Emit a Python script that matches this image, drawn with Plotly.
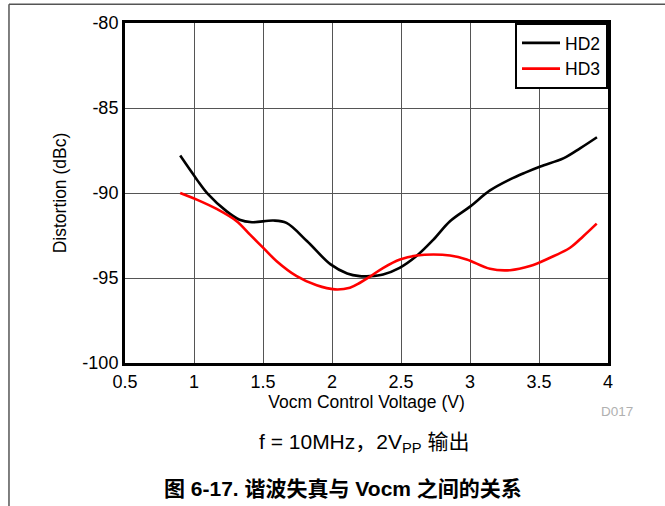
import plotly.graph_objects as go

hd2_x = [0.90, 1.02, 1.10, 1.237, 1.33, 1.42, 1.575, 1.67, 1.82, 1.99, 2.11, 2.20, 2.275, 2.37, 2.49, 2.61, 2.735, 2.855, 3.0, 3.145, 3.29, 3.40, 3.51, 3.68, 3.80, 3.92]
hd2_y = [-87.8, -89.2, -90.05, -91.08, -91.57, -91.72, -91.62, -91.76, -92.84, -94.2, -94.73, -94.89, -94.89, -94.79, -94.4, -93.72, -92.74, -91.66, -90.8, -89.85, -89.2, -88.8, -88.44, -87.95, -87.36, -86.72]

hd3_x = [0.90, 1.02, 1.164, 1.309, 1.406, 1.502, 1.599, 1.744, 1.889, 2.022, 2.13, 2.203, 2.275, 2.372, 2.493, 2.614, 2.735, 2.855, 2.976, 3.145, 3.29, 3.435, 3.58, 3.725, 3.821, 3.918]
hd3_y = [-90.0, -90.39, -90.94, -91.66, -92.45, -93.23, -94.01, -94.89, -95.43, -95.67, -95.57, -95.28, -94.92, -94.4, -93.91, -93.68, -93.62, -93.68, -93.91, -94.46, -94.54, -94.30, -93.81, -93.22, -92.54, -91.8]

x_ticks = [0.5, 1, 1.5, 2, 2.5, 3, 3.5, 4]
x_tick_labels = ["0.5", "1", "1.5", "2", "2.5", "3", "3.5", "4"]
y_ticks = [-100, -95, -90, -85, -80]
y_tick_labels = ["-100", "-95", "-90", "-85", "-80"]

FONT = "Arial, 'Liberation Sans', 'Noto Sans CJK SC', sans-serif"

fig = go.Figure()
fig.add_trace(go.Scatter(x=hd2_x, y=hd2_y, mode="lines", name="HD2",
                         line=dict(color="black", width=2.6, shape="spline", smoothing=1.0)))
fig.add_trace(go.Scatter(x=hd3_x, y=hd3_y, mode="lines", name="HD3",
                         line=dict(color="#ff0000", width=2.6, shape="spline", smoothing=1.0)))

fig.update_layout(
    width=665, height=506,
    margin=dict(l=125, r=57, t=23, b=143),
    paper_bgcolor="white", plot_bgcolor="white",
    font=dict(family=FONT, size=17.5, color="black"),
    showlegend=True,
    legend=dict(x=1, y=1, xanchor="right", yanchor="top",
                bordercolor="black", borderwidth=2, bgcolor="white",
                font=dict(size=17.5), tracegroupgap=0, itemwidth=38),
    xaxis=dict(range=[0.5, 4], tickvals=x_ticks, ticktext=x_tick_labels,
               showgrid=True, gridcolor="#555555", gridwidth=1,
               showline=True, linecolor="black", linewidth=3, mirror=True,
               ticks="", zeroline=False, tickfont=dict(size=18),
               title=dict(text="Vocm Control Voltage (V)", standoff=3, font=dict(size=17.5))),
    yaxis=dict(range=[-100, -80], tickvals=y_ticks, ticktext=y_tick_labels,
               showgrid=True, gridcolor="#555555", gridwidth=1,
               showline=True, linecolor="black", linewidth=3, mirror=True,
               ticks="", zeroline=False, tickfont=dict(size=18),
               title=dict(text="Distortion (dBc)", standoff=12, font=dict(size=17.5))),
)

fig.add_annotation(text="D017", x=1.0186, y=-0.143, xref="paper", yref="paper",
                   xanchor="center", yanchor="middle",
                   showarrow=False, font=dict(size=13.5, color="#b0b0b0"))
fig.add_annotation(text="f = 10MHz，2V<sub>PP</sub> 输出", x=0.494, y=-0.234,
                   xref="paper", yref="paper", xanchor="center", yanchor="middle",
                   showarrow=False, font=dict(size=21, color="black"))
fig.add_annotation(text="<b>图 6-17. 谐波失真与 Vocm 之间的关系</b>", x=0.451, y=-0.369,
                   xref="paper", yref="paper", xanchor="center", yanchor="middle",
                   showarrow=False, font=dict(size=21, color="black"))

# page frame lines
fig.add_shape(type="line", xref="paper", yref="paper", x0=-0.2402, x1=-0.2402,
              y0=1.0549, y1=-0.45, line=dict(color="#555555", width=1.5))
fig.add_shape(type="line", xref="paper", yref="paper", x0=-0.2402, x1=1.2,
              y0=1.0549, y1=1.0549, line=dict(color="#555555", width=1.5))

fig.write_html("out.html", config={"displayModeBar": False},
               post_script="document.body.style.margin='0';")
